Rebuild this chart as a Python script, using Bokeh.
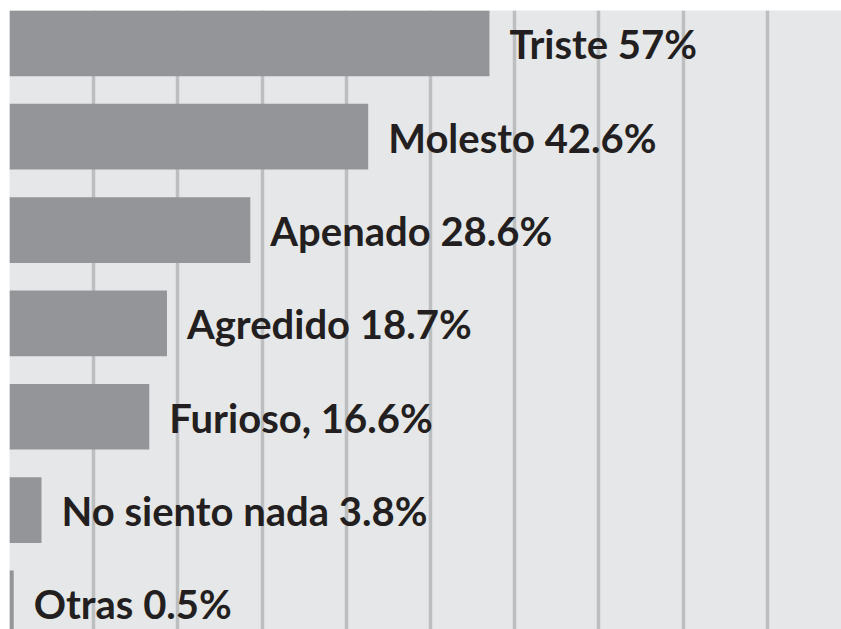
import numpy as np
from bokeh.plotting import figure
from bokeh.models import FixedTicker
from bokeh.core.properties import value
from bokeh.embed import file_html
from bokeh.resources import INLINE

categories = ["Triste", "Molesto", "Apenado", "Agredido", "Furioso", "No siento nada", "Otras"]
percentages = [57, 42.6, 28.6, 18.7, 16.6, 3.8, 0.5]
labels = ["Triste 57%", "Molesto 42.6%", "Apenado 28.6%", "Agredido 18.7%",
          "Furioso, 16.6%", "No siento nada 3.8%", "Otras 0.5%"]
grid_ticks = [10, 20, 30, 40, 50, 60, 70, 80, 90]

n = len(categories)
ypos = list(np.arange(n - 1, -1, -1).astype(float))  # first category at top

p = figure(width=841, height=629, output_backend="svg", toolbar_location=None,
           x_range=(0, 98.81), y_range=(-0.279, n - 1 + 0.352),
           min_border_left=9, min_border_top=10, min_border_right=0, min_border_bottom=0)
p.background_fill_color = "#e6e7e8"
p.border_fill_color = "white"
p.outline_line_color = None
p.xaxis.visible = False
p.yaxis.visible = False
p.ygrid.visible = False
p.xgrid.ticker = FixedTicker(ticks=grid_ticks)
p.xgrid.grid_line_color = "#bcbec0"
p.xgrid.grid_line_width = 3.5

p.hbar(y=ypos, right=percentages, left=0, height=0.704, fill_color="#939598", line_color=None)
p.text(x=percentages, y=ypos, text=labels, x_offset=20, y_offset=1,
       text_baseline="middle", text_align="left",
       text_font=value("Lato"), text_font_style="bold", text_font_size="40px",
       text_color="#231f20")

open("out.html", "w").write(file_html(p, INLINE))
